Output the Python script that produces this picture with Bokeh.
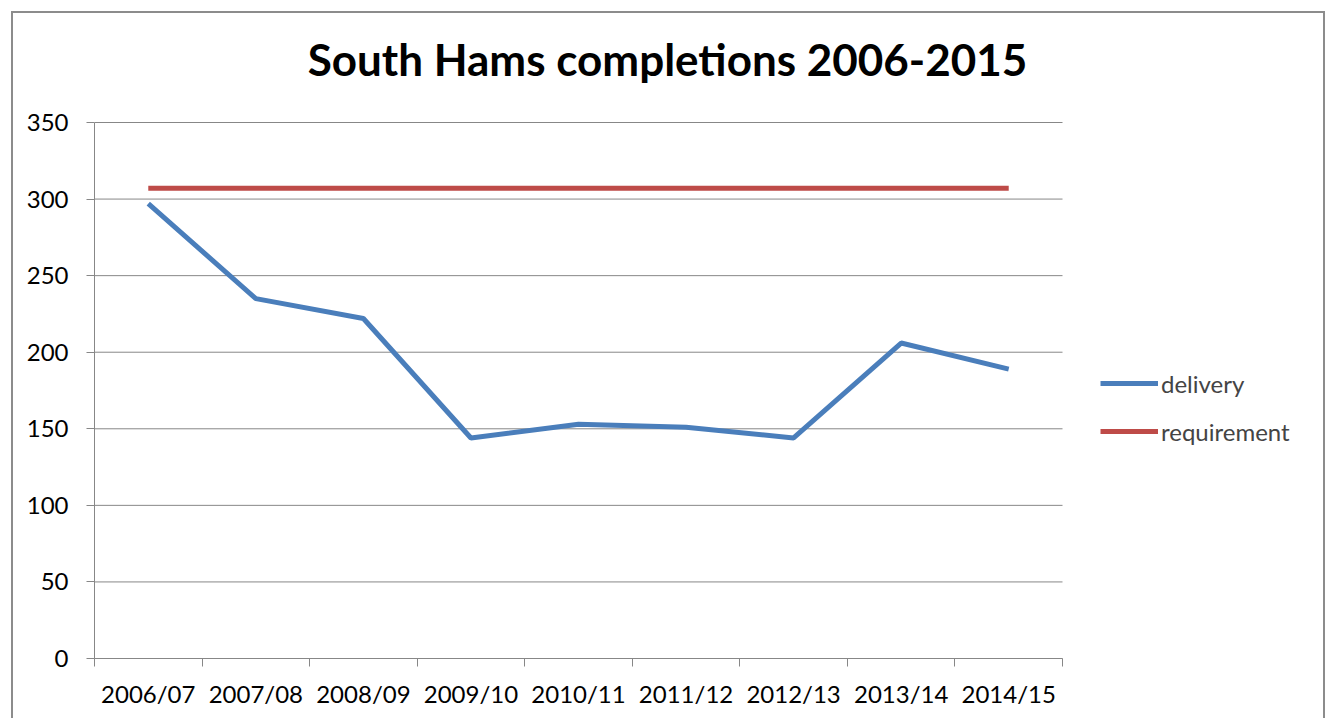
from bokeh.plotting import figure
from bokeh.models import Range1d, FixedTicker, Legend, LegendItem, Label
from bokeh.embed import file_html
from bokeh.resources import INLINE

years = ["2006/07", "2007/08", "2008/09", "2009/10", "2010/11",
         "2011/12", "2012/13", "2013/14", "2014/15"]
delivery = [297, 235, 222, 144, 153, 151, 144, 206, 189]
requirement = [307, 307, 307, 307, 307, 307, 307, 307, 307]
y_ticks = [0, 50, 100, 150, 200, 250, 300, 350]
y_max = 350
title_text = "South Hams completions 2006-2015"

FONT = "Lato"
GRAY = "#878787"
BORDER = "#8c8c8c"

n = len(years)
xs = [i + 0.5 for i in range(n)]

# layout in pixels: axes area 94..1062 x 122..658; the frame is extended so that
# the legend and title can live inside it
W, H = 1330, 718
LEFT, AXIS_RIGHT, FRAME_RIGHT = 94, 1062, 1324
AXIS_TOP, AXIS_BOTTOM, FRAME_TOP = 122, 658, 12
px_x = (AXIS_RIGHT - LEFT) / n
px_y = (AXIS_BOTTOM - AXIS_TOP) / y_max
x_end = (FRAME_RIGHT - LEFT) / px_x
y_end = (AXIS_BOTTOM - FRAME_TOP) / px_y

p = figure(width=W, height=H, output_backend="svg", toolbar_location=None,
           x_range=Range1d(0, x_end), y_range=Range1d(0, y_end),
           min_border_left=LEFT, min_border_right=W - FRAME_RIGHT,
           min_border_top=FRAME_TOP, min_border_bottom=H - AXIS_BOTTOM)
p.outline_line_color = None
p.background_fill_color = None
p.border_fill_color = None
p.styles = {
    "background": (
        f"linear-gradient({BORDER},{BORDER}) 11px 11px / 1314px 2px no-repeat, "
        f"linear-gradient({BORDER},{BORDER}) 11px 11px / 2px 800px no-repeat, "
        f"linear-gradient({BORDER},{BORDER}) 1323px 11px / 2px 800px no-repeat, "
        "white"
    )
}

# axes
xa = p.xaxis[0]
xa.ticker = FixedTicker(ticks=xs, minor_ticks=list(range(n + 1)))
xa.bounds = (0, n)
xa.major_label_overrides = {x: lab for x, lab in zip(xs, years)}
xa.major_tick_line_color = None
xa.minor_tick_line_color = GRAY
xa.minor_tick_out = 8
xa.minor_tick_in = 0
xa.axis_line_color = GRAY
xa.major_label_text_font = FONT
xa.major_label_text_font_size = "24px"
xa.major_label_text_color = "black"
xa.major_label_standoff = 12

ya = p.yaxis[0]
ya.ticker = FixedTicker(ticks=y_ticks, minor_ticks=[])
ya.bounds = (0, y_max)
ya.major_tick_line_color = GRAY
ya.major_tick_out = 8
ya.major_tick_in = 0
ya.minor_tick_line_color = None
ya.axis_line_color = GRAY
ya.major_label_text_font = FONT
ya.major_label_text_font_size = "24px"
ya.major_label_text_color = "black"
ya.major_label_standoff = 18

p.xgrid.grid_line_color = None
p.ygrid.grid_line_color = None
# horizontal gridlines limited to the category area
p.segment(x0=[0] * len(y_ticks), x1=[n] * len(y_ticks), y0=y_ticks, y1=y_ticks,
          line_color=GRAY, line_width=1)

r_del = p.line(xs, delivery, line_color="#4A7EBB", line_width=5)
r_req = p.line(xs, requirement, line_color="#BE4B48", line_width=5)

legend = Legend(items=[LegendItem(label="delivery", renderers=[r_del]),
                       LegendItem(label="requirement", renderers=[r_req])],
                location=(1100 - LEFT, 212), orientation="vertical",
                padding=0, margin=0, spacing=18,
                glyph_width=58, glyph_height=30, label_height=30,
                label_standoff=3,
                label_text_font=FONT, label_text_font_size="24px",
                border_line_color=None, background_fill_alpha=0)
p.add_layout(legend, "center")

# title centred on the whole chart box
p.add_layout(Label(x=(667 - LEFT) / px_x, y=(AXIS_BOTTOM - 58) / px_y,
                   text=title_text, text_font=FONT, text_font_style="bold",
                   text_font_size="44px", text_color="black",
                   text_align="center", text_baseline="alphabetic"))

open("out.html", "w").write(file_html(p, INLINE))
